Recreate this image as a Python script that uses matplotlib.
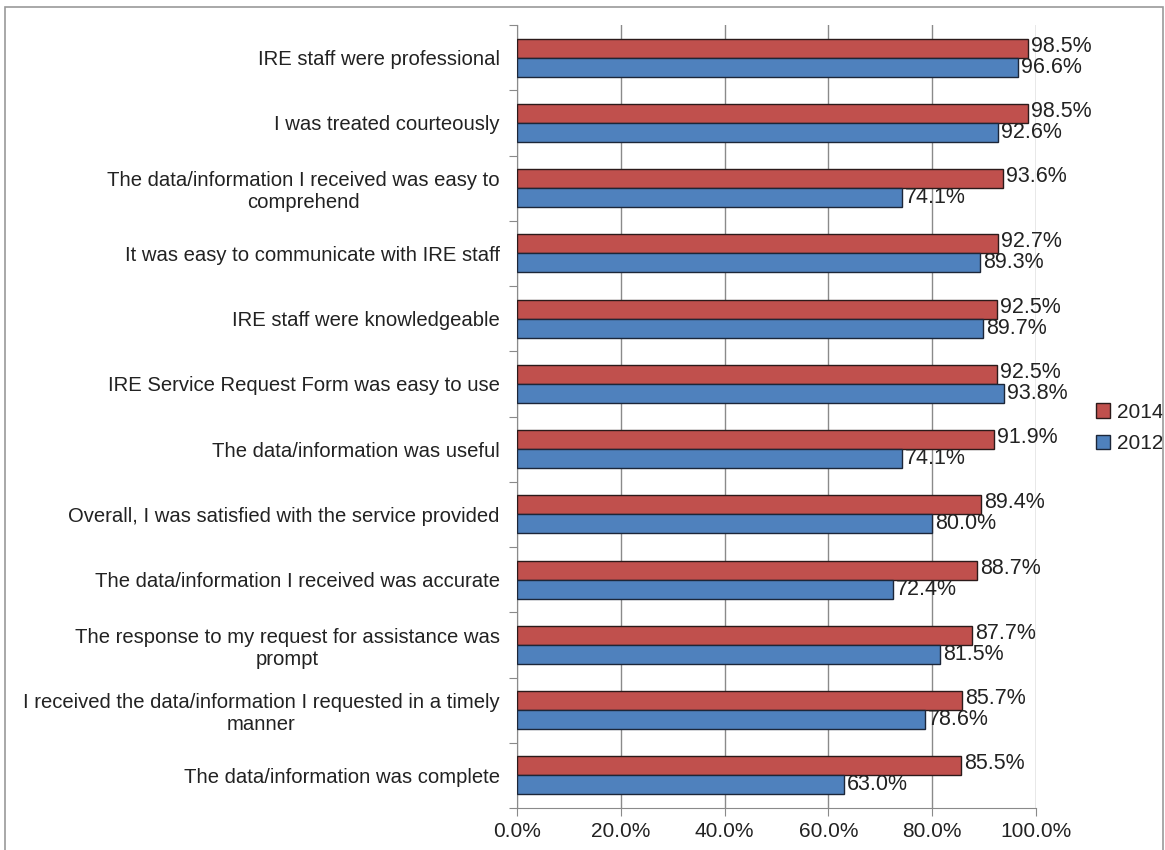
import matplotlib.pyplot as plt
from matplotlib.patches import Rectangle
import numpy as np

# Survey items, top to bottom
items = [
    "IRE staff were professional",
    "I was treated courteously",
    "The data/information I received was easy to\ncomprehend",
    "It was easy to communicate with IRE staff",
    "IRE staff were knowledgeable",
    "IRE Service Request Form was easy to use",
    "The data/information was useful",
    "Overall, I was satisfied with the service provided",
    "The data/information I received was accurate",
    "The response to my request for assistance was\nprompt",
    "I received the data/information I requested in a timely\nmanner",
    "The data/information was complete",
]
pct_2014 = [98.5, 98.5, 93.6, 92.7, 92.5, 92.5, 91.9, 89.4, 88.7, 87.7, 85.7, 85.5]
pct_2012 = [96.6, 92.6, 74.1, 89.3, 89.7, 93.8, 74.1, 80.0, 72.4, 81.5, 78.6, 63.0]
xticks = [0, 20, 40, 60, 80, 100]

plt.rcParams['font.family'] = ['Liberation Sans', 'DejaVu Sans']
txt_color = '#222222'
fs = 14.6
fs_val = 15.5

fig = plt.figure(figsize=(11.65, 8.5), dpi=100)
ax = fig.add_axes([517 / 1165, 1 - 808 / 850, (1036 - 517) / 1165, (808 - 25) / 850])

# light frame round the whole chart
fig.patches.append(Rectangle((5 / 1165, -0.01), (1163 - 5) / 1165, (850 - 7) / 850 + 0.01,
                             transform=fig.transFigure, fill=False,
                             edgecolor='#9a9a9a', linewidth=1.2))

n = len(items)
y = np.arange(n)
h = 0.29

b14 = ax.barh(y - h / 2, pct_2014, height=h, color='#C0504D', edgecolor='#2b1a1a',
              linewidth=1.0, label='2014', zorder=3)
b12 = ax.barh(y + h / 2, pct_2012, height=h, color='#4F81BD', edgecolor='#1c2638',
              linewidth=1.0, label='2012', zorder=3)

for yy, v in zip(y, pct_2014):
    ax.text(v + 0.6, yy - h / 2 - 0.03, f"{v:.1f}%", va='center', ha='left',
            fontsize=fs_val, color=txt_color, zorder=4)
for yy, v in zip(y, pct_2012):
    ax.text(v + 0.6, yy + h / 2, f"{v:.1f}%", va='center', ha='left',
            fontsize=fs_val, color=txt_color, zorder=4)

ax.set_xlim(0, 100)
ax.set_ylim(n - 0.5, -0.5)
ax.set_xticks(xticks)
ax.set_xticklabels([f"{t:.1f}%" for t in xticks], fontsize=15, color=txt_color)
ax.xaxis.grid(True, color='#8a8a8a', linewidth=1.0)
ax.set_axisbelow(True)

# category labels as minor ticks, boundary ticks as major
ax.set_yticks(np.arange(n + 1) - 0.5)
ax.set_yticklabels([])
ax.set_yticks(y, minor=True)
ax.set_yticklabels(items, minor=True, fontsize=fs, color=txt_color,
                   multialignment='center')
ax.tick_params(axis='y', which='minor', length=0, pad=12.5)
ax.tick_params(axis='y', which='major', length=6, color='#8a8a8a')
ax.tick_params(axis='x', length=6, color='#8a8a8a', pad=4)

for s in ['top', 'right']:
    ax.spines[s].set_visible(False)
for s in ['left', 'bottom']:
    ax.spines[s].set_color('#8a8a8a')

leg = ax.legend(handles=[b14, b12], loc='center left', bbox_to_anchor=(1.115, 0.485),
                frameon=False, fontsize=15, handlelength=0.7, handleheight=0.7,
                handletextpad=0.3, labelspacing=0.6, borderpad=0, borderaxespad=0)
for t in leg.get_texts():
    t.set_color(txt_color)

fig.savefig('out.png', dpi=100)
